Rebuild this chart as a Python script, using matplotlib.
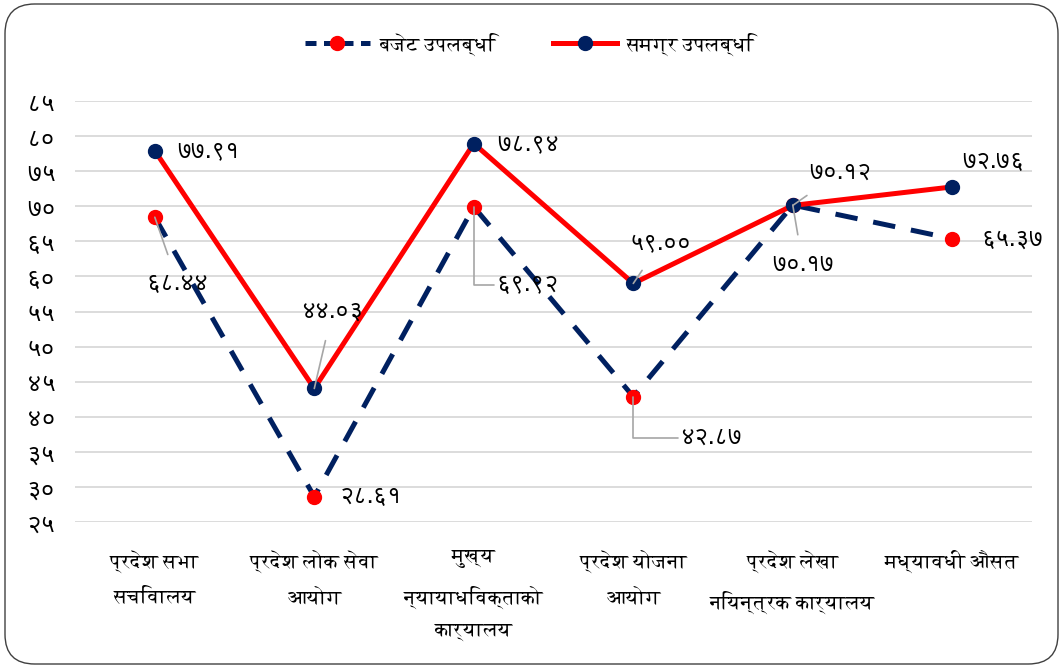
import matplotlib
matplotlib.use('Agg')
import matplotlib.pyplot as plt
from matplotlib.patches import FancyBboxPatch
from matplotlib.lines import Line2D

categories = ["प्रदेश सभा\nसचिवालय", "प्रदेश लोक सेवा\nआयोग", "मुख्य\nन्यायाधिवक्ताको\nकार्यालय",
              "प्रदेश योजना\nआयोग", "प्रदेश लेखा\nनियन्त्रक कार्यालय", "मध्यावधी औसत"]
budget = [68.44, 28.61, 69.92, 42.87, 70.17, 65.37]
overall = [77.91, 44.03, 78.94, 59.00, 70.12, 72.76]
series_names = ["बजेट उपलब्धि", "समग्र उपलब्धि"]
yticks = list(range(25, 90, 5))

DEV = str.maketrans("0123456789", "०१२३४५६७८९")
def dev(s):
    return s.translate(DEV)

NAVY = "#002060"
RED = "#FF0000"
FONT = ["FreeSerif", "DejaVu Sans"]
NUMFONT = ["FreeSans", "DejaVu Sans"]

W, H = 1060, 665
fig = plt.figure(figsize=(W / 100, H / 100), dpi=100)
border = FancyBboxPatch((5 / W, 1 / H), 1053 / W, 660 / H, boxstyle="round,pad=0,rounding_size=0.028",
                        transform=fig.transFigure, fill=False, edgecolor="#404040", linewidth=1.0,
                        mutation_aspect=W / H)
fig.patches.append(border)

ax = fig.add_axes([0.0708, 0.215, 0.9028, 0.6331])
x = list(range(len(categories)))
ax.plot(x, budget, color=NAVY, lw=3.6, dashes=(4.5, 3.2), zorder=3)
ax.plot(x, budget, ls="none", marker="o", ms=10, color=RED, zorder=5)
ax.plot(x, overall, color=RED, lw=3.6, solid_capstyle="round", zorder=4)
ax.plot(x, overall, ls="none", marker="o", ms=10, color=NAVY, zorder=6)

ax.set_xlim(-0.5, len(categories) - 0.5)
ax.set_ylim(25, 85)
ax.set_yticks(yticks)
ax.set_yticklabels([dev(str(v)) for v in yticks], fontfamily=NUMFONT, fontsize=18)
ax.set_xticks(x)
ax.set_xticklabels(categories, fontfamily=FONT, fontsize=14.5, linespacing=2.0)
ax.tick_params(axis="both", length=0)
ax.tick_params(axis="y", pad=14)
ax.tick_params(axis="x", pad=20)
for s in ax.spines.values():
    s.set_visible(False)
ax.grid(axis="y", color="#d9d9d9", lw=1.3)
ax.set_axisbelow(True)

# data label placement: offset in px (dx, dy downward) and leader style
lab_b = [(23, 66, "line"), (57, 0, None), (53, 78, "elbow"), (77, 41, "elbow"), (10, 59, "line"), (60, 0, None)]
lab_o = [(53, 0, None), (18, -77, "line"), (54, 0, None), (27, -40, "line"), (47, -33, "line"), (41, -25, None)]

def put(vals, specs):
    for i, (v, (dx, dy, lead)) in enumerate(zip(vals, specs)):
        kw = {}
        if lead == "line":
            kw["arrowprops"] = dict(arrowstyle="-", color="#a6a6a6", lw=1.2, shrinkA=11, shrinkB=0)
        elif lead == "elbow":
            kw["arrowprops"] = dict(arrowstyle="-", color="#a6a6a6", lw=1.2, shrinkA=0, shrinkB=0,
                                    connectionstyle="angle,angleA=0,angleB=90,rad=0")
        ha = "center"
        off = (dx * 0.72, -dy * 0.72)
        if lead == "elbow":
            ha = "left"
            off = ((dx - 30) * 0.72, -dy * 0.72)
        ax.annotate(dev(f"{v:.2f}"), xy=(i, v), xytext=off, textcoords="offset points",
                    ha=ha, va="center", fontsize=17.5, fontfamily=NUMFONT, color="black", zorder=7, **kw)

put(budget, lab_b)
put(overall, lab_o)

h1 = Line2D([], [], color=NAVY, lw=3.6, dashes=(2.2, 1.5), marker="o", ms=10, mfc=RED, mec=RED)
h2 = Line2D([], [], color=RED, lw=3.6, marker="o", ms=10, mfc=NAVY, mec=NAVY)
fig.legend([h1, h2], series_names, loc="center", bbox_to_anchor=(0.5, 0.934), ncol=2, frameon=False,
           prop={"family": FONT, "size": 14.5}, handlelength=3.2, columnspacing=2.8, handletextpad=0.5)

fig.savefig("out.png", dpi=100)
